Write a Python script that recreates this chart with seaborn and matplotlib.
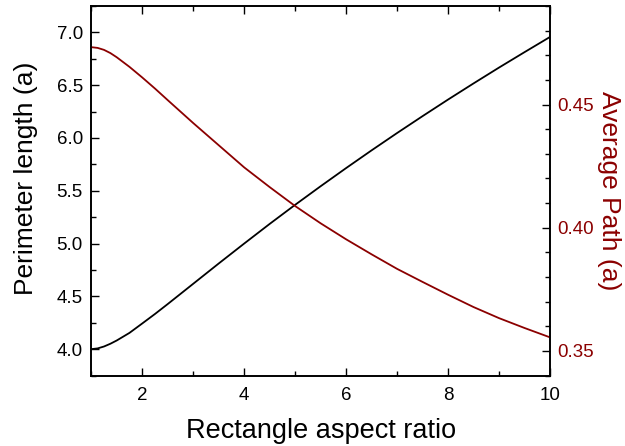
import matplotlib
matplotlib.use("Agg")
import matplotlib.pyplot as plt
import seaborn as sns
import pandas as pd
from matplotlib.ticker import MultipleLocator

aspect_ratio = [1.0, 1.125, 1.25, 1.375, 1.5, 1.75, 2.0, 2.25, 2.5, 3.0, 3.5, 4.0, 4.5,
                5.0, 5.5, 6.0, 6.5, 7.0, 7.5, 8.0, 8.5, 9.0, 9.5, 10.0]
perimeter = [4.000, 4.007, 4.025, 4.051, 4.082, 4.154, 4.243, 4.333, 4.427, 4.619,
             4.811, 5.000, 5.186, 5.367, 5.543, 5.715, 5.883, 6.047, 6.207, 6.364,
             6.517, 6.667, 6.813, 6.957]
avg_path = [0.4733, 0.4730, 0.4722, 0.4709, 0.4692, 0.4653, 0.4610, 0.4565, 0.4518,
            0.4425, 0.4335, 0.4245, 0.4165, 0.4088, 0.4018, 0.3953, 0.3892, 0.3833,
            0.3780, 0.3728, 0.3678, 0.3633, 0.3593, 0.3555]

df = pd.DataFrame({"ratio": aspect_ratio, "perimeter": perimeter, "path": avg_path})

sns.set_style("ticks")
plt.rcParams["font.family"] = ["Liberation Sans", "DejaVu Sans"]
plt.rcParams["text.color"] = "black"
plt.rcParams["axes.labelcolor"] = "black"
plt.rcParams["xtick.color"] = "black"
plt.rcParams["ytick.color"] = "black"

red = "#8B0000"
fig = plt.figure(figsize=(6.25, 4.46), dpi=100)
ax = fig.add_axes([0.146, 0.158, 0.734, 0.8285])
sns.lineplot(data=df, x="ratio", y="perimeter", ax=ax, color="black", linewidth=1.3)
ax2 = ax.twinx()
sns.lineplot(data=df, x="ratio", y="path", ax=ax2, color=red, linewidth=1.3)

ax.set_xlim(1, 10)
ax.set_ylim(3.75, 7.25)
ax2.set_ylim(0.34, 0.49)

ax.xaxis.set_major_locator(MultipleLocator(2))
ax.xaxis.set_minor_locator(MultipleLocator(1))
ax.yaxis.set_major_locator(MultipleLocator(0.5))
ax.yaxis.set_minor_locator(MultipleLocator(0.25))
ax2.yaxis.set_major_locator(MultipleLocator(0.05))
ax2.yaxis.set_minor_locator(MultipleLocator(0.01))
ax.set_xticks([2, 4, 6, 8, 10])
ax.set_yticks([4.0, 4.5, 5.0, 5.5, 6.0, 6.5, 7.0])
ax.set_yticklabels(["4.0", "4.5", "5.0", "5.5", "6.0", "6.5", "7.0"])
ax2.set_yticks([0.35, 0.40, 0.45])
ax2.set_yticklabels(["0.35", "0.40", "0.45"])

ax.tick_params(axis="x", which="both", direction="in", top=True, bottom=True, labelsize=13.5, pad=8,
               colors="black")
ax.tick_params(axis="y", which="both", direction="in", left=True, right=False, labelsize=13.5, pad=6,
               colors="black")
ax.tick_params(which="major", length=6, width=1)
ax.tick_params(which="minor", length=3.5, width=1)
ax2.tick_params(axis="y", which="both", direction="in", labelsize=13.5, colors="black", pad=5)
ax2.tick_params(axis="y", which="major", length=6, width=1)
ax2.tick_params(axis="y", which="minor", length=3.5, width=1)
for lbl in ax2.get_yticklabels():
    lbl.set_color(red)

for a in (ax, ax2):
    for s in a.spines.values():
        s.set_linewidth(1.2)
        s.set_color("black")

ax.set_xlabel("Rectangle aspect ratio", fontsize=19.5, labelpad=10, color="black")
ax.set_ylabel("Perimeter length (a)", fontsize=19, color="black")
ax.yaxis.set_label_coords(-0.117, 0.535)
ax2.set_ylabel("Average Path (a)", fontsize=19, color=red, rotation=270)
ax2.yaxis.set_label_coords(1.154, 0.5)

fig.savefig("out.png", dpi=100)
